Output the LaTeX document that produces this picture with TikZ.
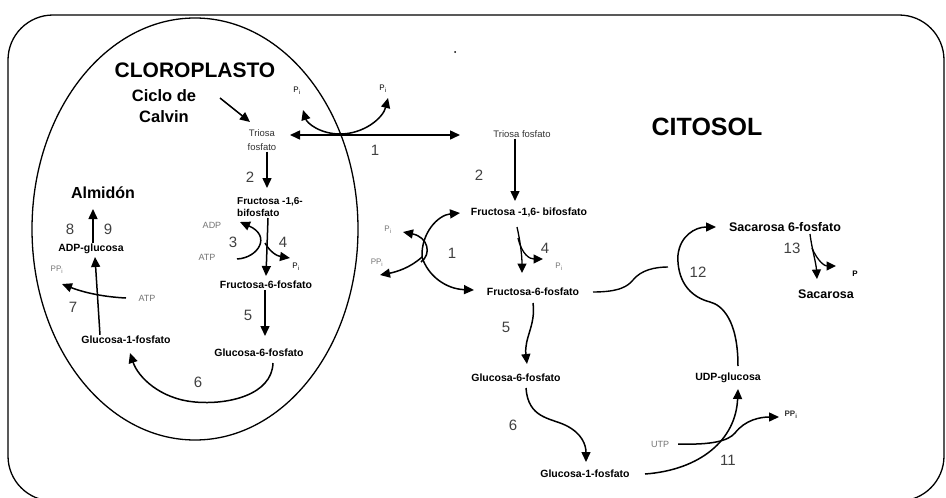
\documentclass[tikz,border=0pt]{standalone}
\usepackage{fontspec}
\setmainfont{Liberation Sans}
\usetikzlibrary{arrows.meta}
\begin{document}
\begin{tikzpicture}[x=1pt,y=-1pt,
  every node/.style={inner sep=1pt},
  big/.style={font=\fontsize{21}{25}\selectfont\bfseries},
  bigger/.style={font=\fontsize{25}{30}\selectfont\bfseries},
  mid/.style={font=\fontsize{16.5}{21}\selectfont\bfseries},
  met/.style={font=\fontsize{10.5}{12}\selectfont\bfseries},
  metbig/.style={font=\fontsize{12.5}{15}\selectfont\bfseries},
  tri/.style={font=\fontsize{9.5}{14}\selectfont, text=black!80},
  num/.style={font=\fontsize{15}{18}\selectfont, text=black!75},
  cof/.style={font=\fontsize{9}{11}\selectfont, text=black!55},
  arr/.style={line width=1.5pt, -{Triangle[length=10pt,width=9pt]}},
  arrs/.style={line width=1.3pt, -{Triangle[length=9.5pt,width=9pt]}},
  dbl/.style={line width=1.5pt, {Triangle[length=10pt,width=9pt]}-{Triangle[length=10pt,width=9pt]}},
  plain/.style={line width=1.4pt},
  border/.style={line width=1.3pt}]
\useasboundingbox (0,0) rectangle (946,498);

% cell and chloroplast outlines
\draw[border, rounded corners=45pt] (8,15) rectangle (944,501);
\draw[border] (195,229) ellipse [x radius=163pt, y radius=211pt];
\fill (455,52) circle [radius=1pt];

% ---------- chloroplast ----------
\node[big] (clor) at (195,70) {CLOROPLASTO};
\node[mid, align=center] (calvin) at (164,106) {Ciclo de\\Calvin};
\node[tri, align=center] (triC) at (262,140) {Triosa\\fosfato};
\node[met, align=left, anchor=west, font=\fontsize{10}{12}\selectfont\bfseries] (fbpC) at (236,207) {Fructosa -1,6-\\bifosfato};
\node[met] (f6pC) at (266,285) {Fructosa-6-fosfato};
\node[met] (g6pC) at (259,353) {Glucosa-6-fosfato};
\node[met] (g1pC) at (126,340) {Glucosa-1-fosfato};
\node[met] (adpg) at (91,249) {ADP-glucosa};
\node[font=\fontsize{16}{19}\selectfont\bfseries] (almidon) at (103,193) {Almidón};

\node[num] (n8) at (70,229) {8};
\node[num] (n9) at (108,229) {9};
\node[num] (n2C) at (250,177) {2};
\node[num] (n3) at (233,242) {3};
\node[num] (n4C) at (283,242) {4};
\node[num] (n5C) at (248,315) {5};
\node[num] (n6C) at (198,382) {6};
\node[num] (n7) at (73,307) {7};
\node[num] (n1a) at (375,150) {1};

\node[cof] (adpl) at (212,225) {ADP};
\node[cof] (atpl) at (207,257) {ATP};
\node[cof, font=\fontsize{8}{10}\selectfont, text=black] (piC4) at (296,267) {P\textsubscript{i}};
\node[cof, font=\fontsize{8}{10}\selectfont] (ppiC) at (57,270) {PP\textsubscript{i}};
\node[cof] (atp7) at (147,298) {ATP};
\node[cof, font=\fontsize{8}{10}\selectfont, text=black] (piTL) at (297,91) {P\textsubscript{i}};
\node[cof, font=\fontsize{8}{10}\selectfont, text=black] (piTR) at (383,89) {P\textsubscript{i}};

% coordinates for connector ends
\coordinate (calS) at (220,98);
\coordinate (calE) at (250,122);
\coordinate (trE) at (290,135);
\coordinate (trCyE) at (460,135);
\coordinate (piJ) at (340,134);
\coordinate (piLtip) at (303,110);
\coordinate (piRtip) at (388,98);
\coordinate (atpS) at (237,259);
\coordinate (adpT) at (240,222);
\coordinate (j4) at (265,243);
\coordinate (pi4T) at (290,258);
\coordinate (atp7S) at (126,298);
\coordinate (ppi7T) at (62,284);

\draw[arr] (calS) -- (calE);
\draw[arr] (triC.south -| 267,0) -- (267,188);
\draw[dbl] (trE) -- (trCyE);
\draw[arr] (piJ) .. controls (320,134) and (307,123) .. (piLtip);
\draw[arr] (piJ) .. controls (364,134) and (383,118) .. (piRtip);
\draw[arr] (268,218) -- (266,276);
\draw[arr] (atpS) .. controls (258,258) and (272,236) .. (adpT);
\draw[arr] (j4) .. controls (270,252) and (277,256) .. (pi4T);
\draw[arr] (f6pC.south -| 265,0) -- (265,336);
\draw[arr] (273,363) .. controls (272,395) and (228,405) .. (195,402)
                     .. controls (160,399) and (138,377) .. (130,353);
\draw[arr] (g1pC.north -| 100,0) -- (95,257);
\draw[arr] (atp7S) .. controls (105,297) and (85,293) .. (ppi7T);
\draw[arr] (adpg.north -| 93,0) -- (93,209);

% ---------- cytosol ----------
\node[bigger] (cito) at (707,127) {CITOSOL};
\node[tri] (triCy) at (522,134) {Triosa fosfato};
\node[met] (fbpCy) at (529,213) {Fructosa -1,6- bifosfato};
\node[met] (f6pCy) at (533,292) {Fructosa-6-fosfato};
\node[met] (g6pCy) at (516,378) {Glucosa-6-fosfato};
\node[met] (g1pCy) at (585,474) {Glucosa-1-fosfato};
\node[met] (udpg) at (728,378) {UDP-glucosa};
\node[metbig] (s6p) at (785,227) {Sacarosa 6-fosfato};
\node[metbig] (sac) at (826,294) {Sacarosa};

\node[num] (n2Cy) at (479,175) {2};
\node[num] (n1b) at (452,253) {1};
\node[num] (n4Cy) at (545,248) {4};
\node[num] (n5Cy) at (506,327) {5};
\node[num] (n6Cy) at (513,425) {6};
\node[num] (n11) at (728,460) {11};
\node[num] (n12) at (698,272) {12};
\node[num] (n13) at (792,248) {13};

\node[cof, font=\fontsize{8}{10}\selectfont] (piCy1) at (388,230) {P\textsubscript{i}};
\node[cof, font=\fontsize{8}{10}\selectfont] (ppiCy1) at (377,263) {PP\textsubscript{i}};
\node[cof, font=\fontsize{8}{10}\selectfont] (piCy4) at (559,267) {P\textsubscript{i}};
\node[cof] (utp) at (660,444) {UTP};
\node[cof, font=\fontsize{8}{10}\selectfont\bfseries, text=black!80] (ppi11) at (791,415) {PP\textsubscript{i}};
\node[font=\fontsize{8}{10}\selectfont\bfseries] (p13) at (855,274) {P};

\coordinate (j1) at (422,257);
\draw[arr] (triCy.south -| 515,0) -- (515,201);
\draw[arr] (j1) .. controls (421,233) and (438,215) .. (460,213);
\draw[arr] (j1) .. controls (428,276) and (446,289) .. (474,290);
\draw[arr] (j1) .. controls (410,268) and (396,272) .. (380,275);
\draw[arr] (421,262) .. controls (432,254) and (428,237) .. (403,232);

\coordinate (j4b) at (518,238);
\draw[arrs] (517,227) .. controls (520,240) and (522,255) .. (522,273);
\draw[arrs] (j4b) .. controls (522,255) and (530,259) .. (543,259);

\draw[arr] (533,303) .. controls (536,325) and (524,338) .. (527,364);
\draw[arr] (526,388) .. controls (528,418) and (550,418) .. (565,425)
                     .. controls (582,433) and (586,445) .. (586,462);
\draw[arr] (645,474) .. controls (700,470) and (736,440) .. (738,389);
\draw[arr] (utp.east) ++(8,0) coordinate (utpS)
   (utpS) .. controls (712,445) and (728,441) .. (735,433)
          .. controls (745,420) and (760,417) .. (779,417);

\draw[plain] (593,292) .. controls (620,292) and (628,286) .. (633,280)
                       .. controls (641,270) and (655,267) .. (668,267);
\draw[arr] (738,366) .. controls (738,320) and (722,305) .. (710,302)
                     .. controls (683,295) and (677,272) .. (678,255)
                     .. controls (680,236) and (695,227) .. (716,227);

\coordinate (j13) at (812,248);
\draw[arrs] (810,234) .. controls (812,250) and (816,262) .. (817,279);
\draw[arrs] (j13) .. controls (818,262) and (825,266) .. (836,266);
\end{tikzpicture}
\end{document}
